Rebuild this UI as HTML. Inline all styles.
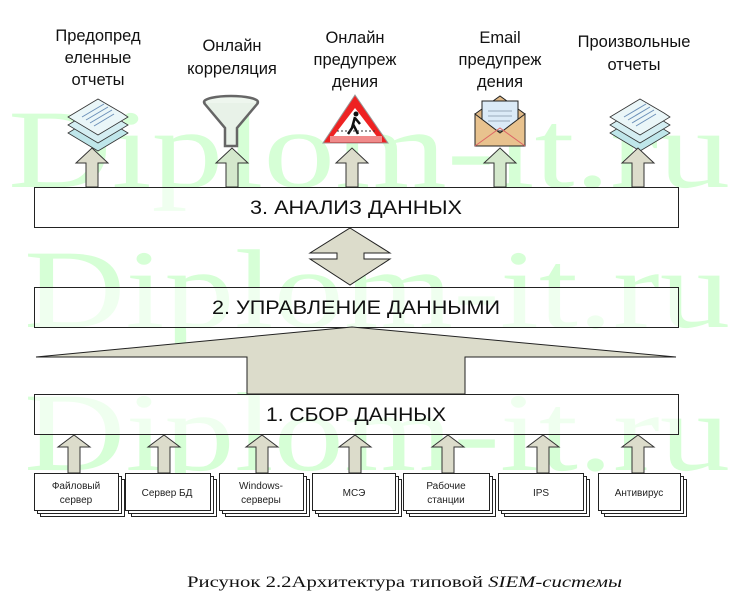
<!DOCTYPE html>
<html><head><meta charset="utf-8"><style>
html,body{margin:0;padding:0;background:#fff;}
svg{display:block;}
.l{font-family:"Liberation Sans","DejaVu Sans",sans-serif;font-size:16.5px;fill:#111;text-anchor:middle;}
.b{font-family:"Liberation Sans","DejaVu Sans",sans-serif;font-size:19px;fill:#111;}
.s{font-family:"Liberation Sans","DejaVu Sans",sans-serif;font-size:10px;fill:#222;text-anchor:middle;}
</style></head><body>
<svg width="732" height="594" viewBox="0 0 732 594" xmlns="http://www.w3.org/2000/svg">
<defs>
<g id="upT"><path d="M-6,39 V15 H-16 L0,0 L16,15 H6 V39 Z" stroke="#333" stroke-width="1"/></g>
<g id="upB"><path d="M-6,38 V12 H-16 L0,0 L16,12 H6 V38 Z" fill="#dcdccb" stroke="#333" stroke-width="1"/></g>
<g id="docs">
<path d="M-30,18 L0,0 L30,18 L0,36 Z" fill="#bfe6ea" stroke="#333" stroke-width="0.8"/>
<path d="M-30,10 L0,-8 L30,10 L0,28 Z" fill="#d4eef2" stroke="#333" stroke-width="0.8"/>
<path d="M-30,2 L0,-16 L24,-2 L30,2 L0,20 Z" fill="#eaf6f8" stroke="#333" stroke-width="0.8"/>
<path d="M-16,2 L6,-11 M-12,5 L10,-8 M-8,8 L14,-5 M-4,11 L16,-1" stroke="#6b8fb8" stroke-width="1"/>
</g>
</defs>

<!-- watermark (behind) -->
<g font-family="Liberation Serif, DejaVu Serif, serif" font-size="112" fill="#00ff00" fill-opacity="0.16">
<text x="8" y="187" textLength="722" lengthAdjust="spacingAndGlyphs">Diplom-it.ru</text>
<text x="24" y="327" textLength="706" lengthAdjust="spacingAndGlyphs">Diplom-it.ru</text>
<text x="24" y="470" textLength="706" lengthAdjust="spacingAndGlyphs">Diplom-it.ru</text>
</g>

<!-- top labels -->
<text class="l" x="98" y="41">Предопред</text>
<text class="l" x="98" y="63">еленные</text>
<text class="l" x="98" y="85">отчеты</text>
<text class="l" x="232" y="51">Онлайн</text>
<text class="l" x="232" y="74">корреляция</text>
<text class="l" x="355" y="43">Онлайн</text>
<text class="l" x="355" y="65">предупреж</text>
<text class="l" x="355" y="87">дения</text>
<text class="l" x="500" y="43">Email</text>
<text class="l" x="500" y="65">предупреж</text>
<text class="l" x="500" y="87">дения</text>
<text class="l" x="634" y="47">Произвольные</text>
<text class="l" x="634" y="70">отчеты</text>

<!-- icons -->
<use href="#docs" x="98" y="115"/>
<use href="#docs" x="640" y="115"/>
<ellipse cx="231" cy="102" rx="27" ry="6" fill="#eef6ee" stroke="#666" stroke-width="2.5"/>
<path d="M204,103 L225,128 L225,146 L237,146 L237,128 L258,103" fill="#e8f2e8" stroke="#666" stroke-width="2.5"/>
<path d="M355,95 L388,143 L323,143 Z" fill="#e22" stroke="#999" stroke-width="1"/>
<path d="M355,108 L378,138 L332,138 Z" fill="#fff"/>
<rect x="330" y="136" width="52" height="6" fill="#f08a8a"/>
<circle cx="356" cy="114" r="2.5" fill="#111"/>
<path d="M355,117 L352,128 L348,134 M353,124 L358,134 M355,118 L360,124" stroke="#111" stroke-width="2.5" fill="none"/>
<path d="M337,131 H375" stroke="#333" stroke-dasharray="2,2"/>
<path d="M475,114 L500,96 L525,114 V146 H475 Z" fill="#deb887" stroke="#222"/>
<rect x="482" y="101" width="36" height="30" fill="#dbeaf7" stroke="#222"/>
<path d="M488,111 H512 M488,116 H512 M488,121 H510" stroke="#9ab" />
<path d="M475,114 L500,133 L525,114 V146 H475 Z" fill="#e8c28e" stroke="#222"/>
<path d="M475,146 L500,128 L525,146" stroke="#d66" fill="none"/>

<!-- top arrows -->
<use href="#upT" x="92" y="148" fill="#dcdccb"/>
<use href="#upT" x="232" y="148" fill="#d4e8cc"/>
<use href="#upT" x="352" y="148" fill="#dcdccb"/>
<use href="#upT" x="500" y="148" fill="#d4e8cc"/>
<use href="#upT" x="638" y="148" fill="#dcdccb"/>

<!-- boxes -->
<rect x="34.5" y="187.5" width="644" height="40" fill="#fff" fill-opacity="0.6" stroke="#222"/>
<text class="b" x="250" y="214" textLength="212" lengthAdjust="spacingAndGlyphs">3. АНАЛИЗ ДАННЫХ</text>
<rect x="34.5" y="287.5" width="644" height="40" fill="#fff" fill-opacity="0.6" stroke="#222"/>
<text class="b" x="212" y="314" textLength="288" lengthAdjust="spacingAndGlyphs">2. УПРАВЛЕНИЕ ДАННЫМИ</text>
<rect x="34.5" y="394.5" width="644" height="40" fill="#fff" fill-opacity="0.6" stroke="#222"/>
<text class="b" x="266" y="421" textLength="180" lengthAdjust="spacingAndGlyphs">1. СБОР ДАННЫХ</text>

<path d="M350,228 L390,253 H364 V259 H390 L350,285 L310,259 H337 V253 H310 Z" fill="#dcdccb" stroke="#222"/>
<path d="M352,327 L676,357 H465 V394 H247 V357 H36 Z" fill="#dcdccb" stroke="#222"/>

<!-- bottom arrows -->
<use href="#upB" x="74" y="435"/>
<use href="#upB" x="164" y="435"/>
<use href="#upB" x="262" y="435"/>
<use href="#upB" x="355" y="435"/>
<use href="#upB" x="448" y="435"/>
<use href="#upB" x="543" y="435"/>
<use href="#upB" x="638" y="435"/>

<g stroke="#222" fill="#fff">
<rect x="40.5" y="479.5" width="84" height="37"/><rect x="37.5" y="476.5" width="84" height="37"/><rect x="34.5" y="473.5" width="84" height="37"/>
<rect x="131.5" y="479.5" width="85" height="37"/><rect x="128.5" y="476.5" width="85" height="37"/><rect x="125.5" y="473.5" width="85" height="37"/>
<rect x="225.5" y="479.5" width="84" height="37"/><rect x="222.5" y="476.5" width="84" height="37"/><rect x="219.5" y="473.5" width="84" height="37"/>
<rect x="318.5" y="479.5" width="83" height="37"/><rect x="315.5" y="476.5" width="83" height="37"/><rect x="312.5" y="473.5" width="83" height="37"/>
<rect x="409.5" y="479.5" width="86" height="37"/><rect x="406.5" y="476.5" width="86" height="37"/><rect x="403.5" y="473.5" width="86" height="37"/>
<rect x="504.5" y="479.5" width="85" height="37"/><rect x="501.5" y="476.5" width="85" height="37"/><rect x="498.5" y="473.5" width="85" height="37"/>
<rect x="604.5" y="479.5" width="82" height="37"/><rect x="601.5" y="476.5" width="82" height="37"/><rect x="598.5" y="473.5" width="82" height="37"/>
</g>
<text class="s" x="76" y="489">Файловый</text><text class="s" x="76" y="503">сервер</text>
<text class="s" x="167" y="496">Сервер БД</text>
<text class="s" x="261" y="489">Windows-</text><text class="s" x="261" y="503">серверы</text>
<text class="s" x="354" y="496">МСЭ</text>
<text class="s" x="446" y="489">Рабочие</text><text class="s" x="446" y="503">станции</text>
<text class="s" x="541" y="496">IPS</text>
<text class="s" x="639" y="496">Антивирус</text>

<text x="187" y="587" font-family="Liberation Serif, serif" font-size="16" fill="#111" textLength="435" lengthAdjust="spacingAndGlyphs">Рисунок 2.2Архитектура типовой <tspan font-style="italic">SIEM-системы</tspan></text>
</svg>
</body></html>
